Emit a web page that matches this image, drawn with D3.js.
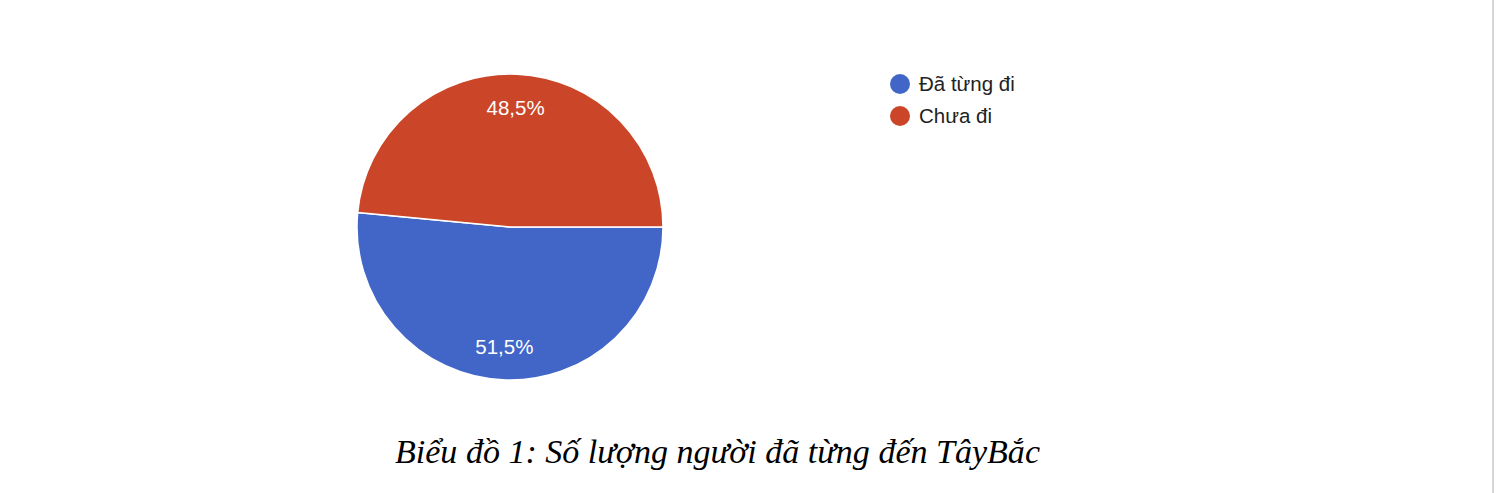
<!DOCTYPE html>
<html>
<head>
<meta charset="utf-8">
<script src="https://cdn.jsdelivr.net/npm/d3@7"></script>
<style>
  html, body { margin: 0; padding: 0; background: #fff; overflow: hidden; }
  svg { display: block; }
</style>
</head>
<body>
<svg id="chart" width="1496" height="493"></svg>
<script>
// Pie of survey answers: who has already been to Tay Bac
var labels = ["Đã từng đi", "Chưa đi"];
var values = [51.5, 48.5];
var colors = ["#4166c7", "#cb4628"];
var caption = "Biểu đồ 1: Số lượng người đã từng đến TâyBắc";

var svg = d3.select("#chart");
var cx = 510, cy = 227, radius = 153;

var fmt = function(v) { return d3.format(".1f")(v).replace(".", ",") + "%"; };

var pie = d3.pie()
    .sort(null)
    .startAngle(Math.PI / 2)
    .endAngle(Math.PI / 2 + 2 * Math.PI);

var arc = d3.arc().innerRadius(0).outerRadius(radius);
var labelArc = d3.arc().innerRadius(radius * 0.78).outerRadius(radius * 0.78);

var slices = pie(values);

var g = svg.append("g").attr("transform", "translate(" + cx + "," + cy + ")");

g.selectAll("path")
  .data(slices)
  .enter().append("path")
    .attr("d", arc)
    .attr("fill", function(d, i) { return colors[i]; })
    .attr("stroke", "#fff")
    .attr("stroke-width", 1.5);

g.selectAll("text")
  .data(slices)
  .enter().append("text")
    .attr("transform", function(d) { return "translate(" + labelArc.centroid(d) + ")"; })
    .attr("text-anchor", "middle")
    .attr("dy", "0.36em")
    .attr("fill", "#fff")
    .style("font-family", "'Liberation Sans', Arial, sans-serif")
    .style("font-size", "20.5px")
    .text(function(d) { return fmt(d.data); });

// legend
var legend = svg.append("g").attr("transform", "translate(900,84)");
var item = legend.selectAll("g")
  .data(labels)
  .enter().append("g")
    .attr("transform", function(d, i) { return "translate(0," + (i * 32) + ")"; });

item.append("circle")
    .attr("r", 10)
    .attr("fill", function(d, i) { return colors[i]; });

item.append("text")
    .attr("x", 19)
    .attr("dy", "0.36em")
    .attr("fill", "#222")
    .style("font-family", "'Liberation Sans', Arial, sans-serif")
    .style("font-size", "20.5px")
    .text(function(d) { return d; });

// caption below the chart
svg.append("text")
    .attr("x", 395)
    .attr("y", 463)
    .attr("textLength", 645)
    .attr("lengthAdjust", "spacingAndGlyphs")
    .attr("fill", "#000")
    .style("font-family", "'Liberation Serif', 'Times New Roman', serif")
    .style("font-style", "italic")
    .style("font-size", "34px")
    .text(caption);

// page edge on the right
svg.append("rect")
    .attr("x", 1492)
    .attr("y", 0)
    .attr("width", 2)
    .attr("height", 493)
    .attr("fill", "#d6d6d6");
</script>
</body>
</html>
